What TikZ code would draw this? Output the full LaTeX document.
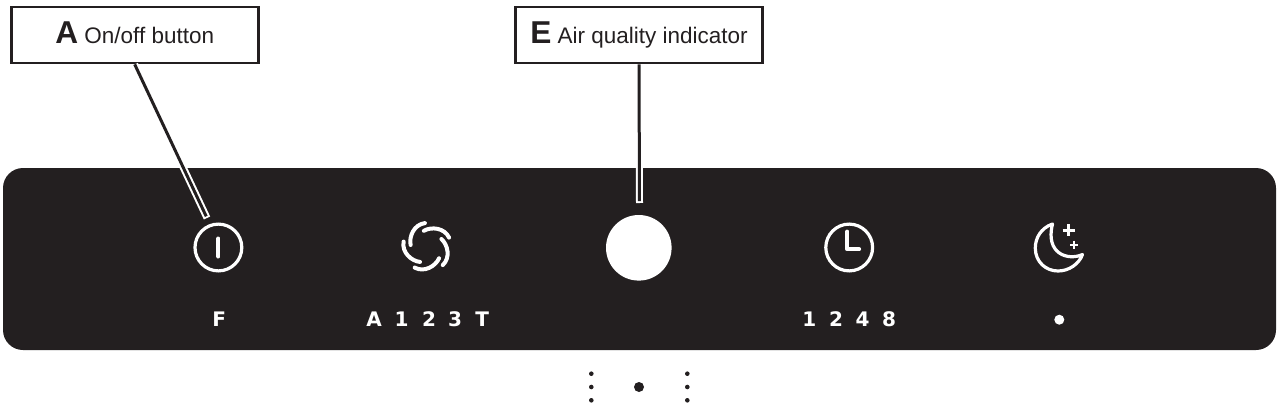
\documentclass[tikz,border=0pt]{standalone}
\usepackage{fontspec}
\setmainfont{Liberation Sans}
\newfontfamily\panelfont{DejaVu Sans}
\usetikzlibrary{calc,positioning}
\definecolor{panelblack}{HTML}{231F20}
\newcommand\PX{0.02cm}
% Text printed on the panel, in white.
\newcommand\PANELCHAR[3] {
    \node[panelchar] (#1) at #2 {#3};
}
% A leader: white casing first, dark core on top.
\newcommand\LEADER[2] {
    \draw[leadercase] (#1) -- (#2);
    \draw[leadercore,shorten >=1.8*\PX] (#1) -- (#2);
}
\tikzset{
    calloutbox/.style={draw=panelblack,line width=2.7*\PX,fill=white,inner sep=0pt
        ,minimum width=247*\PX,minimum height=56*\PX,font=\fontsize{12.8pt}{14pt}\selectfont
        ,text height=21*\PX,text depth=5*\PX,text=panelblack},
    leadercase/.style={draw=white,line width=7*\PX},
    leadercore/.style={draw=panelblack,line width=3*\PX},
    panelchar/.style={text=white,inner sep=0pt,font=\fontsize{11.4pt}{12pt}\panelfont\bfseries},
    iconline/.style={draw=white,line width=3.2*\PX,line cap=round,line join=round},
    iconring/.style={circle,draw=white,line width=3.2*\PX,inner sep=0pt,minimum size=46.8*\PX},
    sidedot/.style={circle,fill=panelblack,inner sep=0pt,minimum size=4.6*\PX},
}
\begin{document}
\begin{tikzpicture}[x=\PX,y=-\PX]
    \useasboundingbox (0,0) rectangle (1279,409);

    % Draw the panel.
    \node[fill=panelblack,rounded corners=20*\PX,inner sep=0pt,minimum width=1273*\PX
        ,minimum height=182*\PX] (panel) at (639.5,259) {};

    % Draw callouts and their leaders.
    \node[calloutbox] (onoff) at (134.7,35) {{\fontsize{18pt}{18pt}\selectfont\bfseries A} On/off button};
    \node[calloutbox] (airquality) at (639,35) {{\fontsize{18pt}{18pt}\selectfont\bfseries E} Air quality indicator};
    \coordinate (onoff_tip) at (207,218);
    \coordinate (airquality_tip) at (639.5,203);
    \LEADER{onoff.south}{onoff_tip}
    \LEADER{airquality.south}{airquality_tip}

    % Draw on/off icon.
    \node[iconring] (power) at (218.4,247.5) {};
    \draw[iconline,line width=4*\PX] ($(power)+(0,-9)$) -- ($(power)+(0,9)$);

    % Draw fan icon: five blades, each turned by 72 degrees.
    \coordinate (fan) at (427,247);
    \foreach \a in {0,72,...,288}
    {
        \draw[iconline,line width=4*\PX,shift={(fan)}] ({-95-\a}:24)
            .. controls ({-120-\a}:26) and ({-150-\a}:21) .. ({-173-\a}:16.5);
    }

    % Draw air quality disc.
    \node[circle,fill=white,inner sep=0pt,minimum size=65.6*\PX] (airdisc) at (638.8,247.8) {};

    % Draw clock icon.
    \node[iconring] (clock) at (849.2,247.5) {};
    \draw[iconline,line width=3.8*\PX] ($(clock)+(-1.9,-16)$) -- ($(clock)+(-1.9,1.8)$) -- ($(clock)+(10,1.8)$);

    % Draw moon icon.
    \coordinate (moon_top) at (1052.5,224);
    \coordinate (moon_tip) at (1082.5,254.5);
    \draw[iconline] (moon_top) .. controls (1041,228) and (1035.3,238) .. (1035.3,248)
        .. controls (1035.3,262) and (1046,271) .. (1058,271)
        .. controls (1069,271) and (1079,264) .. (moon_tip)
        .. controls (1068,261) and (1045,254) .. (moon_top) -- cycle;
    \coordinate (star_big) at (1068.7,230);
    \coordinate (star_small) at (1074,244.7);
    \draw[iconline,line width=3*\PX,line cap=butt] ($(star_big)+(-6,0)$) -- ($(star_big)+(6,0)$);
    \draw[iconline,line width=3*\PX,line cap=butt] ($(star_big)+(0,-6)$) -- ($(star_big)+(0,6)$);
    \draw[iconline,line width=2.4*\PX,line cap=butt] ($(star_small)+(-4,0)$) -- ($(star_small)+(4,0)$);
    \draw[iconline,line width=2.4*\PX,line cap=butt] ($(star_small)+(0,-4)$) -- ($(star_small)+(0,4)$);

    % Draw panel characters.
    \PANELCHAR{power_f}{(219.3,319.5)}{F}
    \foreach \x/\t in {374/A,401.7/1,429/2,455/3,482.3/T}
    {
        \PANELCHAR{fan_\t}{(\x,319.5)}{\t}
    }
    \foreach \x/\t in {809.3/1,836/2,862.7/4,889/8}
    {
        \PANELCHAR{clock_\t}{(\x,319.5)}{\t}
    }
    \node[circle,fill=white,inner sep=0pt,minimum size=10*\PX] (night_dot) at (1059.3,319.7) {};

    % Draw dots below the panel.
    \node[circle,fill=panelblack,inner sep=0pt,minimum size=10*\PX] (below_dot) at (639,387) {};
    \foreach \x in {591.3,687.3}
    {
        \foreach \y in {373.7,387,400.3}
        {
            \node[sidedot] at (\x,\y) {};
        }
    }
\end{tikzpicture}
\end{document}
